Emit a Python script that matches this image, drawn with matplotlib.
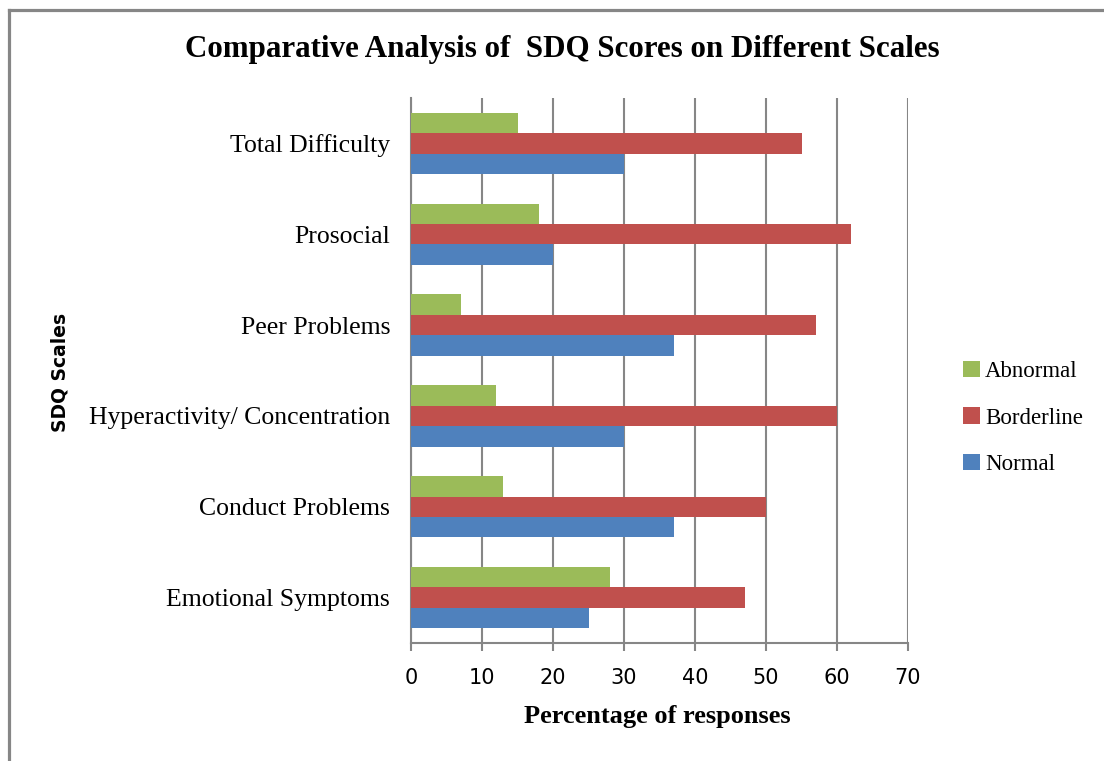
import matplotlib
matplotlib.use("Agg")
import matplotlib.pyplot as plt
from matplotlib.lines import Line2D
import numpy as np

scales = ["Emotional Symptoms", "Conduct Problems", "Hyperactivity/ Concentration",
          "Peer Problems", "Prosocial", "Total Difficulty"]
normal = [25, 37, 30, 37, 20, 30]
borderline = [47, 50, 60, 57, 62, 55]
abnormal = [28, 13, 12, 7, 18, 15]
xticks = [0, 10, 20, 30, 40, 50, 60, 70]

c_norm = "#4f81bd"
c_bord = "#c0504d"
c_abn = "#9bbb59"
grey = "#868686"

W, H = 1104, 761
fig = plt.figure(figsize=(W / 100, H / 100), dpi=100)
ax = fig.add_axes([411 / W, 1 - 643 / H, 497 / W, 545 / H])

y = np.arange(len(scales))
h = 0.225
ax.barh(y - h, normal, height=h, color=c_norm, label="Normal", zorder=3)
ax.barh(y, borderline, height=h, color=c_bord, label="Borderline", zorder=3)
ax.barh(y + h, abnormal, height=h, color=c_abn, label="Abnormal", zorder=3)

ax.set_xlim(0, 70)
ax.set_ylim(-0.5, len(scales) - 0.5)
ax.set_xticks(xticks)
ax.set_xticklabels([str(t) for t in xticks], fontsize=15, family="DejaVu Sans")
ax.set_yticks(y)
ax.set_yticklabels(scales, fontsize=18.5, family="Liberation Serif")
ax.tick_params(axis="y", length=0, pad=15)
ax.tick_params(axis="x", length=6, width=1.5, color=grey, pad=12, direction="out")
ax.xaxis.grid(True, color=grey, linewidth=1.5, zorder=0)
for s in ["top", "right"]:
    ax.spines[s].set_visible(False)
for s in ["left", "bottom"]:
    ax.spines[s].set_color(grey)
    ax.spines[s].set_linewidth(1.5)

fig.text(562 / W, 1 - 50 / H, "Comparative Analysis of  SDQ Scores on Different Scales",
         ha="center", va="center", fontsize=22.3, fontweight="bold", family="Liberation Serif")
fig.text(657 / W, 1 - 717 / H, "Percentage of responses", ha="center", va="center",
         fontsize=19, fontweight="bold", family="Liberation Serif")
fig.text(60 / W, 1 - 372 / H, "SDQ Scales", ha="center", va="center", rotation=90,
         fontsize=13.5, fontweight="bold", family="DejaVu Sans")

handles, labels = ax.get_legend_handles_labels()
fig.legend(handles[::-1], labels[::-1], loc="center left",
           bbox_to_anchor=(952 / W, 1 - 418 / H), frameon=False, borderpad=0,
           prop={"family": "Liberation Serif", "size": 16.5},
           handlelength=0.7, handleheight=0.7, handletextpad=0.25, labelspacing=1.1)

# outer chart border (top and left edges)
fig.add_artist(Line2D([8.5 / W, 1], [1 - 9.5 / H, 1 - 9.5 / H], color=grey, linewidth=2.3,
                      transform=fig.transFigure))
fig.add_artist(Line2D([8.5 / W, 8.5 / W], [0, 1 - 9.5 / H], color=grey, linewidth=2.3,
                      transform=fig.transFigure))

fig.savefig("out.png", dpi=100)
